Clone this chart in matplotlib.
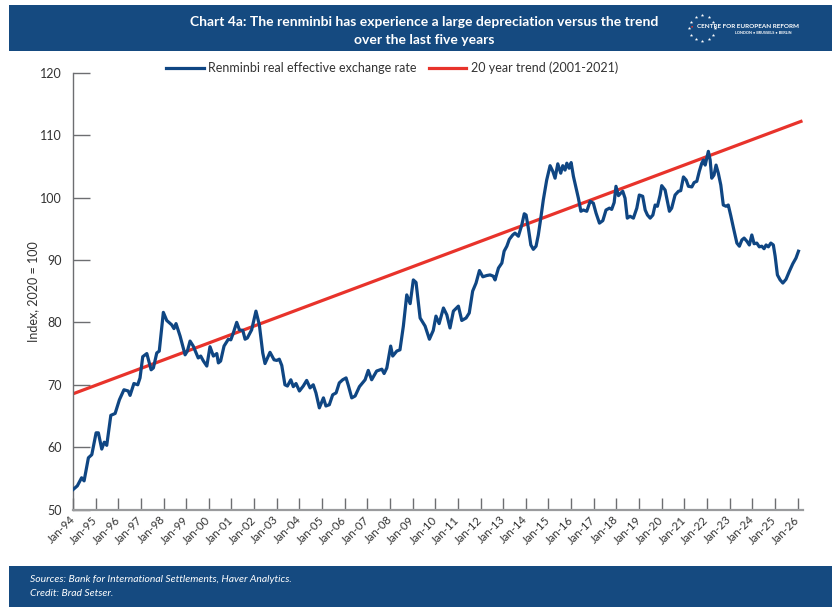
import matplotlib
matplotlib.use("Agg")
from matplotlib import pyplot as plt
from matplotlib.patches import Rectangle
from matplotlib.transforms import ScaledTranslation
import numpy as np

plt.rcParams['font.family'] = ['Lato', 'DejaVu Sans']

# Renminbi real effective exchange rate (index, 2020 = 100)
years = [1994.00, 1994.19, 1994.38, 1994.49, 1994.68, 1994.83, 1995.02, 1995.12, 1995.27, 1995.38,
         1995.49, 1995.67, 1995.86, 1996.05, 1996.25, 1996.44, 1996.52, 1996.69, 1996.86, 1996.96,
         1997.08, 1997.26, 1997.45, 1997.55, 1997.70, 1997.81, 1997.99, 1998.14, 1998.36, 1998.46,
         1998.55, 1998.73, 1998.95, 1999.05, 1999.17, 1999.31, 1999.53, 1999.64, 1999.76, 1999.91,
         2000.05, 2000.20, 2000.35, 2000.42, 2000.52, 2000.67, 2000.86, 2000.97, 2001.08, 2001.23,
         2001.35, 2001.50, 2001.60, 2001.70, 2001.89, 2002.08, 2002.23, 2002.38, 2002.48, 2002.70,
         2002.88, 2003.00, 2003.11, 2003.22, 2003.36, 2003.47, 2003.62, 2003.73, 2003.85, 2004.00,
         2004.17, 2004.32, 2004.47, 2004.61, 2004.73, 2004.88, 2005.06, 2005.17, 2005.32, 2005.47,
         2005.62, 2005.76, 2005.91, 2006.06, 2006.16, 2006.31, 2006.46, 2006.65, 2006.90, 2007.04,
         2007.19, 2007.41, 2007.64, 2007.74, 2007.86, 2008.03, 2008.12, 2008.30, 2008.44, 2008.59,
         2008.74, 2008.89, 2009.03, 2009.15, 2009.33, 2009.55, 2009.74, 2009.91, 2010.03, 2010.17,
         2010.36, 2010.51, 2010.65, 2010.80, 2011.02, 2011.17, 2011.36, 2011.50, 2011.65, 2011.80,
         2011.95, 2012.10, 2012.27, 2012.42, 2012.56, 2012.64, 2012.79, 2012.94, 2013.04, 2013.16,
         2013.27, 2013.42, 2013.52, 2013.67, 2013.82, 2013.93, 2014.01, 2014.11, 2014.22, 2014.33,
         2014.45, 2014.55, 2014.66, 2014.77, 2014.92, 2015.07, 2015.19, 2015.29, 2015.41, 2015.54,
         2015.63, 2015.73, 2015.81, 2015.91, 2016.00, 2016.10, 2016.22, 2016.32, 2016.43, 2016.54,
         2016.69, 2016.84, 2016.98, 2017.10, 2017.25, 2017.40, 2017.54, 2017.69, 2017.79, 2017.90,
         2017.98, 2018.09, 2018.19, 2018.28, 2018.38, 2018.48, 2018.60, 2018.75, 2018.90, 2019.01,
         2019.16, 2019.27, 2019.37, 2019.49, 2019.61, 2019.71, 2019.81, 2019.93, 2020.00, 2020.15,
         2020.25, 2020.34, 2020.44, 2020.59, 2020.74, 2020.84, 2020.96, 2021.08, 2021.18, 2021.33,
         2021.43, 2021.55, 2021.66, 2021.77, 2021.84, 2021.92, 2021.99, 2022.06, 2022.14, 2022.21,
         2022.31, 2022.40, 2022.50, 2022.61, 2022.72, 2022.84, 2022.94, 2023.05, 2023.17, 2023.32,
         2023.43, 2023.54, 2023.64, 2023.76, 2023.87, 2023.98, 2024.08, 2024.20, 2024.31, 2024.42,
         2024.52, 2024.61, 2024.71, 2024.82, 2024.93, 2025.01, 2025.11, 2025.23, 2025.35, 2025.49,
         2025.64, 2025.79, 2025.93, 2026.04]
rmb = [53.2, 53.8, 55.1, 54.6, 58.3, 58.8, 62.3, 62.3, 59.7, 60.8,
       60.3, 65.1, 65.4, 67.6, 69.2, 69.0, 68.3, 70.2, 70.0, 71.1,
       74.5, 75.0, 72.4, 72.7, 75.1, 75.4, 81.6, 80.3, 79.6, 79.0,
       79.8, 77.8, 74.8, 75.4, 77.0, 76.2, 74.3, 74.6, 73.8, 73.0,
       76.1, 74.6, 75.0, 73.5, 73.8, 76.2, 77.3, 77.2, 78.3, 80.0,
       78.8, 78.7, 77.3, 77.5, 78.8, 81.8, 79.6, 75.1, 73.4, 75.2,
       74.0, 73.9, 74.1, 73.1, 70.0, 69.8, 70.8, 69.7, 70.2, 69.0,
       69.8, 70.7, 69.5, 70.0, 68.7, 66.3, 67.9, 66.6, 66.8, 68.4,
       68.7, 70.3, 70.8, 71.1, 69.9, 67.9, 68.2, 69.7, 70.8, 72.3,
       70.8, 72.2, 72.5, 71.8, 72.7, 76.2, 74.6, 75.4, 75.6, 79.4,
       84.4, 83.0, 86.8, 86.4, 80.7, 79.4, 77.3, 78.7, 81.0, 79.8,
       82.3, 81.2, 79.1, 81.8, 82.6, 80.3, 80.7, 81.5, 85.0, 86.3,
       88.3, 87.3, 87.5, 87.6, 87.4, 86.8, 88.7, 89.5, 91.4, 92.2,
       93.3, 94.0, 94.3, 93.8, 95.6, 97.4, 97.2, 95.1, 92.4, 91.7,
       92.2, 94.0, 96.7, 99.6, 102.8, 105.1, 104.2, 103.1, 105.4, 103.9,
       105.1, 104.4, 105.5, 104.7, 105.6, 103.4, 101.5, 99.9, 97.8, 98.0,
       97.8, 99.4, 99.1, 97.5, 95.9, 96.3, 98.0, 98.3, 98.1, 99.2,
       101.8, 100.3, 100.7, 101.0, 99.9, 96.7, 97.0, 96.7, 98.3, 100.4,
       100.2, 98.0, 97.2, 96.7, 97.2, 98.8, 98.6, 100.4, 101.9, 101.2,
       99.4, 97.8, 98.3, 100.4, 101.0, 101.1, 103.3, 102.8, 101.8, 101.7,
       102.4, 102.6, 104.2, 105.5, 106.0, 105.2, 106.3, 107.4, 106.0, 103.1,
       103.6, 105.2, 103.9, 102.0, 98.8, 98.6, 98.8, 97.1, 95.1, 92.7,
       92.2, 93.2, 93.5, 93.0, 92.4, 94.0, 92.6, 92.7, 92.1, 92.2,
       91.8, 92.4, 92.1, 92.7, 92.4, 90.6, 87.6, 86.8, 86.3, 86.9,
       88.2, 89.4, 90.3, 91.4]

# 20 year trend (2001-2021), straight line end points
trend_years = [1994.0, 2026.15]
trend_vals = [68.55, 112.2]

tick_years = list(range(1994, 2027))
tick_labels = ['Jan-%02d' % (y % 100) for y in tick_years]

navy = '#154a80'
blue = '#0f4683'
red = '#e8332b'
axis_grey = '#6d6e71'

W, H = 832, 610
fig = plt.figure(figsize=(W / 100, H / 100), dpi=100)
fig.patch.set_facecolor('white')

# header and footer bands
fig.add_artist(Rectangle((9 / W, 1 - 51 / H), 1, 46 / H, transform=fig.transFigure,
                         facecolor=navy, edgecolor='none', zorder=0))
fig.add_artist(Rectangle((9 / W, 1 - 607 / H), 1, 41 / H, transform=fig.transFigure,
                         facecolor=navy, edgecolor='none', zorder=0))

fig.text(424 / W, 1 - 22 / H, 'Chart 4a: The renminbi has experience a large depreciation versus the trend',
         color='white', fontsize=10, fontweight='bold', ha='center', va='center')
fig.text(424 / W, 1 - 40 / H, 'over the last five years',
         color='white', fontsize=10, fontweight='bold', ha='center', va='center')

# logo: ring of stars plus name
ang = np.linspace(0, 2 * np.pi, 12, endpoint=False)
sx = (702 + 13 * np.cos(ang)) / W
sy = 1 - (28 - 13 * np.sin(ang)) / H
fig.add_artist(plt.Line2D(sx, sy, transform=fig.transFigure, linestyle='none',
                          marker='*', markersize=2.6, color='white', markeredgewidth=0))
fig.text(691 / W, 1 - 27 / H, '\u25aa', color=red, fontsize=4, ha='left', va='center')
fig.text(697 / W, 1 - 27 / H, 'CENTRE FOR EUROPEAN REFORM', color='white', fontsize=4.6,
         fontweight='bold', ha='left', va='center')
fig.text(792 / W, 1 - 33.5 / H, 'LONDON \u2022 BRUSSELS \u2022 BERLIN', color='white', fontsize=2.8,
         fontweight='bold', ha='right', va='center')

fig.text(30 / W, 1 - 579 / H, 'Sources: Bank for International Settlements, Haver Analytics.',
         color='white', fontsize=7.5, style='italic', ha='left', va='center')
fig.text(30 / W, 1 - 593 / H, 'Credit: Brad Setser.',
         color='white', fontsize=7.5, style='italic', ha='left', va='center')

ax = fig.add_axes([73 / W, 1 - 509.6 / H, 730 / W, 436.9 / H])
ax.plot(years, rmb, color=blue, linewidth=2.3, solid_joinstyle='round',
        label='Renminbi real effective exchange rate', zorder=3)
ax.plot(trend_years, trend_vals, color=red, linewidth=2.3,
        label='20 year trend (2001-2021)', zorder=2)

ax.set_xlim(1994, 2026.24)
ax.set_ylim(50, 120)
ax.set_yticks(range(50, 121, 10))
ax.set_xticks(tick_years)
ax.set_xticklabels(tick_labels, rotation=45, ha='right', va='center', rotation_mode='anchor')
offset = ScaledTranslation(9 / 72, -2 / 72, fig.dpi_scale_trans)
for lab in ax.get_xticklabels():
    lab.set_transform(lab.get_transform() + offset)

for s in ['top', 'right']:
    ax.spines[s].set_visible(False)
ax.spines['left'].set_color(axis_grey)
ax.spines['left'].set_linewidth(1.0)
ax.spines['bottom'].set_color('#9a9b9d')
ax.spines['bottom'].set_linewidth(1.6)
ax.tick_params(axis='y', direction='in', length=12.5, width=1.0, color=axis_grey,
               labelsize=9, labelcolor='#333333', pad=8)
ax.tick_params(axis='x', direction='in', length=8.5, width=1.0, color=axis_grey,
               labelsize=8.2, labelcolor='#333333', pad=6)
ax.set_ylabel('Index, 2020 = 100', fontsize=9, color='#333333', labelpad=1)

leg = ax.legend(loc='center', bbox_to_anchor=(392 / W, 1 - 68 / H), bbox_transform=fig.transFigure,
                ncol=2, frameon=False, fontsize=9, handlelength=3.0, handletextpad=0.35,
                columnspacing=1.0, borderpad=0)
for t in leg.get_texts():
    t.set_color('#333333')

fig.savefig('out.png', dpi=100, facecolor='white')
